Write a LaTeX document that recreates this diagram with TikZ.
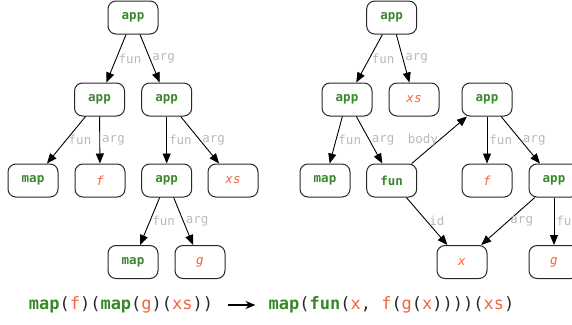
\documentclass[tikz,border=0pt]{standalone}
\usepackage{fontspec}
\setmainfont{DejaVu Sans Mono}
\usetikzlibrary{arrows.meta}
\definecolor{kw}{RGB}{58,135,45}
\definecolor{var}{RGB}{240,100,60}
\definecolor{lblc}{RGB}{185,185,185}
\definecolor{bord}{RGB}{40,40,40}
\definecolor{par}{RGB}{40,40,40}
\tikzset{
 nbox/.style={draw=bord, line width=1pt, rounded corners=8pt, minimum width=50pt, minimum height=33pt, inner sep=0pt},
 kwbox/.style={nbox, text=kw, font=\fontsize{12.5}{14}\selectfont\bfseries},
 varbox/.style={nbox, text=var, font=\fontsize{12.5}{14}\selectfont\itshape},
 conn/.style={line width=0.9pt, -{Triangle[length=10pt,width=8pt]}},
 elbl/.style={midway, anchor=west, text=lblc, inner sep=0pt, xshift=2pt, font=\fontsize{12.5}{14}\selectfont},
 elblL/.style={elbl, anchor=east, xshift=-3pt},
 formula/.style={inner sep=0pt, text=par, font=\fontsize{17}{20}\selectfont},
}
\newcommand{\kwt}[1]{\textcolor{kw}{\bfseries #1}}
\newcommand{\vrt}[1]{\textcolor{var}{#1}}
\begin{document}
\begin{tikzpicture}[x=1pt,y=-1pt]
\useasboundingbox (0,0) rectangle (572,324);
% left tree
\node[kwbox] (L0) at (133,17.5) {app};
\node[kwbox] (L1) at (99.5,99.5) {app};
\node[kwbox] (L2) at (166.7,99.5) {app};
\node[kwbox] (L3) at (33,180.5) {map};
\node[varbox] (L4) at (100,180.5) {f};
\node[kwbox] (L5) at (166.7,180.5) {app};
\node[varbox] (L6) at (233,180.5) {xs};
\node[kwbox] (L7) at (133,262) {map};
\node[varbox] (L8) at (200,262) {g};
\draw[conn] (L0) -- (L1) node[elbl] {fun};
\draw[conn] (L0) -- (L2) node[elbl] {arg};
\draw[conn] (L1) -- (L3) node[elbl] {fun};
\draw[conn] (L1) -- (L4) node[elbl] {arg};
\draw[conn] (L2) -- (L5) node[elbl] {fun};
\draw[conn] (L2) -- (L6) node[elbl] {arg};
\draw[conn] (L5) -- (L7) node[elbl] {fun};
\draw[conn] (L5) -- (L8) node[elbl] {arg};
% right tree
\node[kwbox] (R0) at (391.7,17.5) {app};
\node[kwbox] (R1) at (347,99.5) {app};
\node[varbox] (R2) at (414,99.5) {xs};
\node[kwbox] (R3) at (487,99.5) {app};
\node[kwbox] (R4) at (325,180.5) {map};
\node[kwbox] (R5) at (391.7,180.5) {fun};
\node[varbox] (R6) at (487,180.5) {f};
\node[kwbox] (R7) at (554,180.5) {app};
\node[varbox] (R8) at (462,262) {x};
\node[varbox] (R9) at (554,262) {g};
\draw[conn] (R0) -- (R1) node[elbl] {fun};
\draw[conn] (R0) -- (R2) node[elbl] {arg};
\draw[conn] (R1) -- (R4) node[elbl] {fun};
\draw[conn] (R1) -- (R5) node[elbl] {arg};
\draw[conn] (R5) -- (R3) node[elblL] {body};
\draw[conn] (R3) -- (R6) node[elbl] {fun};
\draw[conn] (R3) -- (R7) node[elbl] {arg};
\draw[conn] (R5) -- (R8) node[elbl] {id};
\draw[conn] (R7) -- (R8) node[elbl] {arg};
\draw[conn] (R7) -- (R9) node[elbl] {fun};
% formula
\node[formula] (lhs) at (121,305) {\kwt{map}(\vrt{f})(\kwt{map}(\vrt{g})(\vrt{xs}))};
\node[formula] (rhs) at (391.5,305) {\kwt{map}(\kwt{fun}(\vrt{x}, \vrt{f}(\vrt{g}(\vrt{x}))))(\vrt{xs})};
\draw[line width=1.3pt, -{Stealth[length=10pt,width=8pt]}] ([xshift=15pt]lhs.east) -- ([xshift=-13pt]rhs.west);
\end{tikzpicture}
\end{document}
